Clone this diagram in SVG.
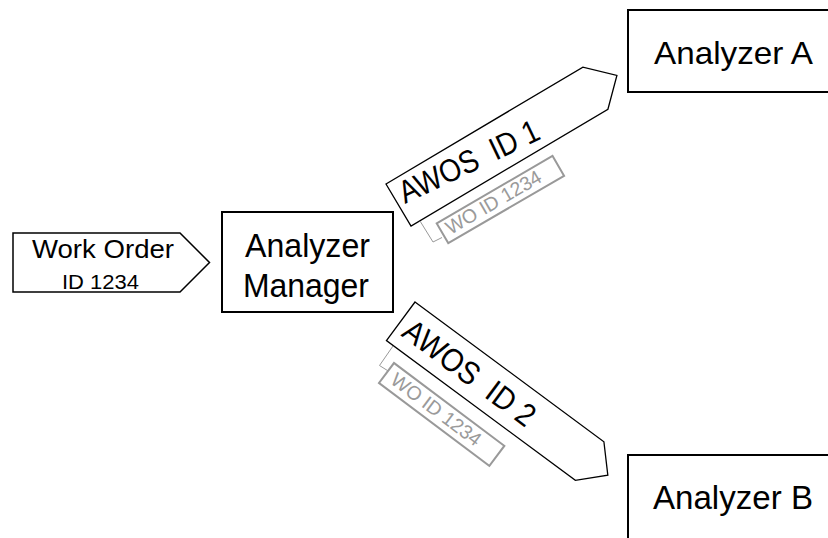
<svg xmlns="http://www.w3.org/2000/svg" width="828" height="538" viewBox="0 0 828 538">
<style>
text{font-family:"Liberation Sans",Arial,sans-serif;fill:#000}
.pre{white-space:pre}
.box{fill:#fff;stroke:#000;stroke-width:2}
.tag{fill:#fff;stroke:#000;stroke-width:1.3}
.wo{fill:#fff;stroke:#999;stroke-width:2}
.wot{fill:#9a9a9a}
.br{fill:none;stroke:#999;stroke-width:1}
</style>
<rect width="828" height="538" fill="#fff"/>
<g id="work-order">
<polygon points="13,233 180,233 209.5,262.5 180,292 13,292" fill="#fff" stroke="#000" stroke-width="1.5"/>
<text x="32" y="258" font-size="26" textLength="142" lengthAdjust="spacingAndGlyphs">Work Order</text>
<text x="62" y="288.5" font-size="21" textLength="77" lengthAdjust="spacingAndGlyphs">ID 1234</text>
</g>
<g id="analyzer-manager">
<rect class="box" x="222" y="212" width="171" height="100"/>
<text x="245" y="257" font-size="33" textLength="125" lengthAdjust="spacingAndGlyphs">Analyzer</text>
<text x="243" y="296.5" font-size="33" textLength="126" lengthAdjust="spacingAndGlyphs">Manager</text>
</g>
<g id="analyzer-a">
<rect class="box" x="628" y="10" width="220" height="82"/>
<text x="654" y="64" font-size="32" textLength="159" lengthAdjust="spacingAndGlyphs">Analyzer A</text>
</g>
<g id="analyzer-b">
<rect class="box" x="628" y="455" width="220" height="100"/>
<text x="653" y="508.5" font-size="33" textLength="160" lengthAdjust="spacingAndGlyphs">Analyzer B</text>
</g>
<g id="connectors">
<g id="awos-1">
<polygon class="tag" transform="translate(386,184) rotate(-30.7)" points="0,0 229,0 254,24.5 229,49 0,49"/>
<text class="pre" xml:space="preserve" transform="translate(405,204) rotate(-25.5)" font-size="32" textLength="152" lengthAdjust="spacingAndGlyphs">AWOS  ID 1</text>
</g>
<g id="wo-1">
<polyline class="br" points="420,221 433,242 442,237.5"/>
<g transform="translate(436.7,223.3) rotate(-30.2)">
<rect class="wo" x="0" y="0" width="134" height="23"/>
<text class="wot" x="6" y="17" font-size="19.5">WO ID 1234</text>
</g>
</g>
<g id="awos-2">
<g transform="translate(415,302) rotate(36.5)">
<polygon class="tag" points="0,0 235,0 258,24.5 235,48 0,48"/>
<text class="pre" xml:space="preserve" x="8" y="35.5" font-size="32" textLength="156" lengthAdjust="spacingAndGlyphs">AWOS  ID 2</text>
</g>
</g>
<g id="wo-2">
<polyline class="br" points="393,346 379.5,365.5 389,371.5"/>
<g transform="translate(394,363) rotate(36.9)">
<rect class="wo" x="0" y="0" width="138" height="25"/>
<text class="wot" x="8" y="18.5" font-size="19.5">WO ID 1234</text>
</g>
</g>
</g>
</svg>
